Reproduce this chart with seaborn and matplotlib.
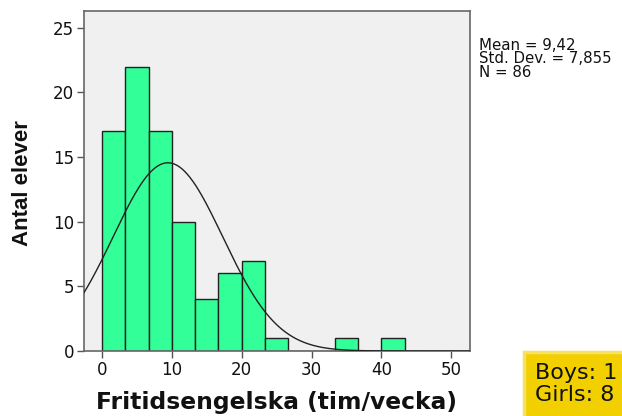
import numpy as np
import pandas as pd
import matplotlib
matplotlib.use("Agg")
import matplotlib.pyplot as plt
from matplotlib.patches import Rectangle
import seaborn as sns

# Histogram of weekly leisure-time English hours (bin width 10/3 h)
bin_width = 10 / 3
bin_starts = [i * bin_width for i in range(13)]
counts = [17, 22, 17, 10, 4, 6, 7, 1, 0, 0, 1, 0, 1]

stat_mean = 9.42
stat_sd = 7.855
stat_n = 86

x_ticks = [0, 10, 20, 30, 40, 50]
y_ticks = [0, 5, 10, 15, 20, 25]

stats_lines = ["Mean = 9,42", "Std. Dev. = 7,855", "N = 86"]
note_lines = ["Boys: 1", "Girls: 8"]

sns.set_style("white")
plt.rcParams["font.family"] = ["DejaVu Sans"]

W, H = 622, 416
fig = plt.figure(figsize=(W / 100, H / 100), dpi=100)
ax = fig.add_axes([84 / W, 1 - 351 / H, (470 - 84) / W, (351 - 11) / H])
ax.set_facecolor("#F0F0F0")

df = pd.DataFrame({
    "mid": [s + bin_width / 2 for s in bin_starts],
    "count": counts,
})
edges = bin_starts + [bin_starts[-1] + bin_width]
sns.histplot(data=df, x="mid", weights="count", bins=edges, ax=ax,
             color="#33FF99", alpha=1.0, edgecolor="#222222", linewidth=1.0,
             zorder=2)

# Fitted normal curve, scaled to counts per bin
xs = np.linspace(-2.7, 52.7, 400)
ys = stat_n * bin_width * np.exp(-0.5 * ((xs - stat_mean) / stat_sd) ** 2) / (stat_sd * np.sqrt(2 * np.pi))
sns.lineplot(x=xs, y=ys, ax=ax, color="#222222", linewidth=1.0, zorder=3)

ax.set_xlim(-2.6, 52.7)
ax.set_ylim(0, 26.3)
ax.set_xticks(x_ticks)
ax.set_yticks(y_ticks)
ax.tick_params(axis="both", direction="out", length=5, width=1, color="#555555",
               labelsize=12, labelcolor="#111111", pad=2,
               bottom=True, left=True)
for sp in ax.spines.values():
    sp.set_color("#666666")
    sp.set_linewidth(1.2)

ax.set_xlabel("")
ax.set_ylabel("")
fig.text(277 / W, 1 - 403 / H, "Fritidsengelska (tim/vecka)", fontsize=16.8,
         fontweight="bold", ha="center", va="center", color="#111111")
fig.text(23 / W, 1 - 183 / H, "Antal elever", fontsize=16, fontweight="bold",
         family=["Liberation Sans", "DejaVu Sans"], rotation=90,
         ha="center", va="center", color="#111111")

fig.text(479 / W, 1 - 38 / H, "\n".join(stats_lines),
         fontsize=10.8, va="top", ha="left", linespacing=0.86, color="#111111")

# Annotation box running off the lower right corner
fig.add_artist(Rectangle((524 / W, -0.05), 0.3, 0.05 + (H - 352) / H,
                         transform=fig.transFigure, facecolor="#F2D000",
                         edgecolor="#F8E060", linewidth=2.5, zorder=5))
fig.text(535 / W, 1 - 363 / H, "\n".join(note_lines), fontsize=16,
         va="top", ha="left", linespacing=1.12, color="#111111", zorder=6)

fig.savefig("out.png", dpi=100)
